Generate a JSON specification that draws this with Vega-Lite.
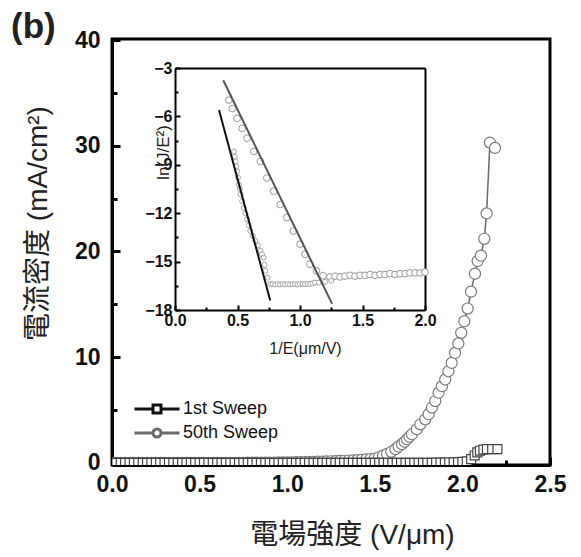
{
  "$schema": "https://vega.github.io/schema/vega-lite/v6.json",
  "width": 438,
  "height": 426,
  "autosize": "none",
  "padding": {"left": 112, "top": 39, "right": 31, "bottom": 92},
  "background": "white",
  "title": {"text": "(b)", "anchor": "start", "frame": "group", "dx": -101, "dy": 44, "fontSize": 35, "fontWeight": "bold", "color": "#222", "offset": 0, "baseline": "alphabetic", "font": "Liberation Sans"},
  "config": {
    "view": {"stroke": "black", "strokeWidth": 3},
    "axis": {"grid": false, "domainColor": "black", "tickColor": "black", "labelColor": "#111", "titleColor": "#222", "labelFont": "Liberation Sans", "labelFlush": false, "labelOverlap": false}
  },
  "datasets": {
    "main": [
      {"E":0.000,"J":0,"s":"50th Sweep"},{"E":0.025,"J":0,"s":"50th Sweep"},{"E":0.050,"J":0,"s":"50th Sweep"},{"E":0.075,"J":0,"s":"50th Sweep"},{"E":0.100,"J":0,"s":"50th Sweep"},{"E":0.125,"J":0,"s":"50th Sweep"},{"E":0.150,"J":0,"s":"50th Sweep"},{"E":0.175,"J":0,"s":"50th Sweep"},{"E":0.200,"J":0,"s":"50th Sweep"},{"E":0.225,"J":0,"s":"50th Sweep"},{"E":0.250,"J":0,"s":"50th Sweep"},{"E":0.275,"J":0,"s":"50th Sweep"},{"E":0.300,"J":0,"s":"50th Sweep"},{"E":0.325,"J":0,"s":"50th Sweep"},{"E":0.350,"J":0,"s":"50th Sweep"},{"E":0.375,"J":0,"s":"50th Sweep"},{"E":0.400,"J":0,"s":"50th Sweep"},{"E":0.425,"J":0,"s":"50th Sweep"},{"E":0.450,"J":0,"s":"50th Sweep"},{"E":0.475,"J":0,"s":"50th Sweep"},{"E":0.500,"J":0,"s":"50th Sweep"},{"E":0.525,"J":0,"s":"50th Sweep"},{"E":0.550,"J":0,"s":"50th Sweep"},{"E":0.575,"J":0,"s":"50th Sweep"},{"E":0.600,"J":0,"s":"50th Sweep"},{"E":0.625,"J":0,"s":"50th Sweep"},{"E":0.650,"J":0.01,"s":"50th Sweep"},{"E":0.675,"J":0.01,"s":"50th Sweep"},{"E":0.700,"J":0.01,"s":"50th Sweep"},{"E":0.725,"J":0.01,"s":"50th Sweep"},{"E":0.750,"J":0.01,"s":"50th Sweep"},{"E":0.775,"J":0.02,"s":"50th Sweep"},{"E":0.800,"J":0.02,"s":"50th Sweep"},{"E":0.825,"J":0.02,"s":"50th Sweep"},{"E":0.850,"J":0.02,"s":"50th Sweep"},{"E":0.875,"J":0.03,"s":"50th Sweep"},{"E":0.900,"J":0.03,"s":"50th Sweep"},{"E":0.925,"J":0.03,"s":"50th Sweep"},{"E":0.950,"J":0.04,"s":"50th Sweep"},{"E":0.975,"J":0.04,"s":"50th Sweep"},{"E":1.000,"J":0.05,"s":"50th Sweep"},{"E":1.025,"J":0.05,"s":"50th Sweep"},{"E":1.050,"J":0.06,"s":"50th Sweep"},{"E":1.075,"J":0.07,"s":"50th Sweep"},{"E":1.100,"J":0.08,"s":"50th Sweep"},{"E":1.125,"J":0.09,"s":"50th Sweep"},{"E":1.150,"J":0.1,"s":"50th Sweep"},{"E":1.175,"J":0.11,"s":"50th Sweep"},{"E":1.200,"J":0.12,"s":"50th Sweep"},{"E":1.225,"J":0.13,"s":"50th Sweep"},{"E":1.250,"J":0.15,"s":"50th Sweep"},{"E":1.275,"J":0.16,"s":"50th Sweep"},{"E":1.300,"J":0.18,"s":"50th Sweep"},{"E":1.325,"J":0.2,"s":"50th Sweep"},{"E":1.350,"J":0.22,"s":"50th Sweep"},{"E":1.375,"J":0.24,"s":"50th Sweep"},{"E":1.400,"J":0.26,"s":"50th Sweep"},{"E":1.425,"J":0.29,"s":"50th Sweep"},{"E":1.450,"J":0.32,"s":"50th Sweep"},{"E":1.475,"J":0.36,"s":"50th Sweep"},{"E":1.500,"J":0.41,"s":"50th Sweep"},
      {"E":1.523,"J":0.53,"s":"50th Sweep"},{"E":1.547,"J":0.68,"s":"50th Sweep"},{"E":1.570,"J":0.84,"s":"50th Sweep"},{"E":1.594,"J":1.05,"s":"50th Sweep"},{"E":1.618,"J":1.3,"s":"50th Sweep"},{"E":1.636,"J":1.55,"s":"50th Sweep"},{"E":1.655,"J":1.77,"s":"50th Sweep"},{"E":1.670,"J":2.0,"s":"50th Sweep"},{"E":1.684,"J":2.24,"s":"50th Sweep"},{"E":1.698,"J":2.47,"s":"50th Sweep"},{"E":1.712,"J":2.71,"s":"50th Sweep"},{"E":1.740,"J":3.18,"s":"50th Sweep"},{"E":1.760,"J":3.65,"s":"50th Sweep"},{"E":1.788,"J":4.12,"s":"50th Sweep"},{"E":1.807,"J":4.6,"s":"50th Sweep"},{"E":1.826,"J":5.23,"s":"50th Sweep"},{"E":1.845,"J":5.85,"s":"50th Sweep"},{"E":1.864,"J":6.64,"s":"50th Sweep"},{"E":1.883,"J":7.26,"s":"50th Sweep"},{"E":1.902,"J":7.89,"s":"50th Sweep"},{"E":1.920,"J":8.67,"s":"50th Sweep"},{"E":1.939,"J":9.46,"s":"50th Sweep"},{"E":1.958,"J":10.4,"s":"50th Sweep"},{"E":1.977,"J":11.3,"s":"50th Sweep"},{"E":1.993,"J":12.3,"s":"50th Sweep"},{"E":2.011,"J":13.4,"s":"50th Sweep"},{"E":2.030,"J":14.6,"s":"50th Sweep"},{"E":2.049,"J":16.2,"s":"50th Sweep"},{"E":2.072,"J":17.9,"s":"50th Sweep"},{"E":2.087,"J":19.1,"s":"50th Sweep"},{"E":2.106,"J":19.6,"s":"50th Sweep"},{"E":2.125,"J":21.2,"s":"50th Sweep"},{"E":2.138,"J":23.6,"s":"50th Sweep"},{"E":2.157,"J":30.3,"s":"50th Sweep"},{"E":2.186,"J":29.8,"s":"50th Sweep"},
      {"E":0.000,"J":0,"s":"1st Sweep"},{"E":0.025,"J":0,"s":"1st Sweep"},{"E":0.050,"J":0,"s":"1st Sweep"},{"E":0.075,"J":0,"s":"1st Sweep"},{"E":0.100,"J":0,"s":"1st Sweep"},{"E":0.125,"J":0,"s":"1st Sweep"},{"E":0.150,"J":0,"s":"1st Sweep"},{"E":0.175,"J":0,"s":"1st Sweep"},{"E":0.200,"J":0,"s":"1st Sweep"},{"E":0.225,"J":0,"s":"1st Sweep"},{"E":0.250,"J":0,"s":"1st Sweep"},{"E":0.275,"J":0,"s":"1st Sweep"},{"E":0.300,"J":0,"s":"1st Sweep"},{"E":0.325,"J":0,"s":"1st Sweep"},{"E":0.350,"J":0,"s":"1st Sweep"},{"E":0.375,"J":0,"s":"1st Sweep"},{"E":0.400,"J":0,"s":"1st Sweep"},{"E":0.425,"J":0,"s":"1st Sweep"},{"E":0.450,"J":0,"s":"1st Sweep"},{"E":0.475,"J":0,"s":"1st Sweep"},{"E":0.500,"J":0,"s":"1st Sweep"},{"E":0.525,"J":0,"s":"1st Sweep"},{"E":0.550,"J":0,"s":"1st Sweep"},{"E":0.575,"J":0,"s":"1st Sweep"},{"E":0.600,"J":0,"s":"1st Sweep"},{"E":0.625,"J":0,"s":"1st Sweep"},{"E":0.650,"J":0,"s":"1st Sweep"},{"E":0.675,"J":0,"s":"1st Sweep"},{"E":0.700,"J":0,"s":"1st Sweep"},{"E":0.725,"J":0,"s":"1st Sweep"},{"E":0.750,"J":0,"s":"1st Sweep"},{"E":0.775,"J":0,"s":"1st Sweep"},{"E":0.800,"J":0,"s":"1st Sweep"},{"E":0.825,"J":0,"s":"1st Sweep"},{"E":0.850,"J":0,"s":"1st Sweep"},{"E":0.875,"J":0,"s":"1st Sweep"},{"E":0.900,"J":0,"s":"1st Sweep"},{"E":0.925,"J":0,"s":"1st Sweep"},{"E":0.950,"J":0,"s":"1st Sweep"},{"E":0.975,"J":0,"s":"1st Sweep"},{"E":1.000,"J":0,"s":"1st Sweep"},{"E":1.025,"J":0,"s":"1st Sweep"},{"E":1.050,"J":0,"s":"1st Sweep"},{"E":1.075,"J":0,"s":"1st Sweep"},{"E":1.100,"J":0,"s":"1st Sweep"},{"E":1.125,"J":0,"s":"1st Sweep"},{"E":1.150,"J":0,"s":"1st Sweep"},{"E":1.175,"J":0,"s":"1st Sweep"},{"E":1.200,"J":0,"s":"1st Sweep"},{"E":1.225,"J":0,"s":"1st Sweep"},{"E":1.250,"J":0,"s":"1st Sweep"},{"E":1.275,"J":0,"s":"1st Sweep"},{"E":1.300,"J":0,"s":"1st Sweep"},{"E":1.325,"J":0,"s":"1st Sweep"},{"E":1.350,"J":0,"s":"1st Sweep"},{"E":1.375,"J":0,"s":"1st Sweep"},{"E":1.400,"J":0,"s":"1st Sweep"},{"E":1.425,"J":0,"s":"1st Sweep"},{"E":1.450,"J":0,"s":"1st Sweep"},{"E":1.475,"J":0,"s":"1st Sweep"},{"E":1.500,"J":0,"s":"1st Sweep"},{"E":1.525,"J":0,"s":"1st Sweep"},{"E":1.550,"J":0,"s":"1st Sweep"},{"E":1.575,"J":0,"s":"1st Sweep"},{"E":1.600,"J":0,"s":"1st Sweep"},{"E":1.625,"J":0,"s":"1st Sweep"},{"E":1.650,"J":0,"s":"1st Sweep"},{"E":1.675,"J":0,"s":"1st Sweep"},{"E":1.700,"J":0,"s":"1st Sweep"},{"E":1.725,"J":0,"s":"1st Sweep"},{"E":1.750,"J":0,"s":"1st Sweep"},{"E":1.775,"J":0,"s":"1st Sweep"},{"E":1.800,"J":0,"s":"1st Sweep"},{"E":1.825,"J":0.01,"s":"1st Sweep"},{"E":1.850,"J":0.02,"s":"1st Sweep"},{"E":1.875,"J":0.02,"s":"1st Sweep"},{"E":1.900,"J":0.03,"s":"1st Sweep"},{"E":1.925,"J":0.04,"s":"1st Sweep"},{"E":1.950,"J":0.05,"s":"1st Sweep"},{"E":1.975,"J":0.07,"s":"1st Sweep"},{"E":2.000,"J":0.1,"s":"1st Sweep"},{"E":2.025,"J":0.15,"s":"1st Sweep"},{"E":2.050,"J":0.35,"s":"1st Sweep"},{"E":2.070,"J":0.7,"s":"1st Sweep"},{"E":2.085,"J":1.0,"s":"1st Sweep"},{"E":2.100,"J":1.15,"s":"1st Sweep"},{"E":2.120,"J":1.25,"s":"1st Sweep"},{"E":2.140,"J":1.3,"s":"1st Sweep"},{"E":2.170,"J":1.3,"s":"1st Sweep"},{"E":2.200,"J":1.3,"s":"1st Sweep"}
    ],
    "ins": [
      {"x":0.471,"y":-8.17,"s":"1st"},{"x":0.478,"y":-8.5,"s":"1st"},{"x":0.484,"y":-8.79,"s":"1st"},{"x":0.49,"y":-9.1,"s":"1st"},{"x":0.497,"y":-9.41,"s":"1st"},{"x":0.504,"y":-9.8,"s":"1st"},{"x":0.511,"y":-10.23,"s":"1st"},{"x":0.518,"y":-10.5,"s":"1st"},{"x":0.524,"y":-10.84,"s":"1st"},{"x":0.537,"y":-11.25,"s":"1st"},{"x":0.55,"y":-11.67,"s":"1st"},{"x":0.563,"y":-12.0,"s":"1st"},{"x":0.577,"y":-12.38,"s":"1st"},{"x":0.59,"y":-12.75,"s":"1st"},{"x":0.603,"y":-13.1,"s":"1st"},{"x":0.623,"y":-13.4,"s":"1st"},{"x":0.643,"y":-13.72,"s":"1st"},{"x":0.663,"y":-14.0,"s":"1st"},{"x":0.683,"y":-14.33,"s":"1st"},{"x":0.696,"y":-14.55,"s":"1st"},{"x":0.709,"y":-14.75,"s":"1st"},{"x":0.716,"y":-15.2,"s":"1st"},{"x":0.722,"y":-15.57,"s":"1st"},{"x":0.74,"y":-16.0,"s":"1st"},{"x":0.762,"y":-16.39,"s":"1st"},{"x":0.78,"y":-16.4,"s":"1st"},{"x":0.80,"y":-16.42,"s":"1st"},{"x":0.82,"y":-16.4,"s":"1st"},{"x":0.84,"y":-16.42,"s":"1st"},{"x":0.86,"y":-16.4,"s":"1st"},{"x":0.88,"y":-16.42,"s":"1st"},{"x":0.90,"y":-16.4,"s":"1st"},{"x":0.92,"y":-16.42,"s":"1st"},{"x":0.94,"y":-16.4,"s":"1st"},{"x":0.96,"y":-16.4,"s":"1st"},{"x":0.98,"y":-16.42,"s":"1st"},{"x":1.00,"y":-16.4,"s":"1st"},{"x":1.02,"y":-16.38,"s":"1st"},{"x":1.04,"y":-16.4,"s":"1st"},{"x":1.06,"y":-16.38,"s":"1st"},{"x":1.08,"y":-16.38,"s":"1st"},{"x":1.10,"y":-16.35,"s":"1st"},{"x":1.12,"y":-16.3,"s":"1st"},{"x":1.15,"y":-16.3,"s":"1st"},{"x":1.20,"y":-16.25,"s":"1st"},{"x":1.25,"y":-16.2,"s":"1st"},
      {"x":0.431,"y":-4.99,"s":"50th"},{"x":0.458,"y":-5.51,"s":"50th"},{"x":0.497,"y":-6.12,"s":"50th"},{"x":0.537,"y":-6.74,"s":"50th"},{"x":0.577,"y":-7.35,"s":"50th"},{"x":0.63,"y":-8.17,"s":"50th"},{"x":0.683,"y":-8.79,"s":"50th"},{"x":0.735,"y":-9.82,"s":"50th"},{"x":0.788,"y":-10.64,"s":"50th"},{"x":0.841,"y":-11.46,"s":"50th"},{"x":0.894,"y":-12.27,"s":"50th"},{"x":0.947,"y":-13.1,"s":"50th"},{"x":1.0,"y":-13.92,"s":"50th"},{"x":1.04,"y":-14.54,"s":"50th"},{"x":1.079,"y":-15.16,"s":"50th"},{"x":1.132,"y":-15.57,"s":"50th"},{"x":1.185,"y":-15.87,"s":"50th"},{"x":1.24,"y":-15.95,"s":"50th"},{"x":1.28,"y":-15.9,"s":"50th"},{"x":1.32,"y":-15.95,"s":"50th"},{"x":1.36,"y":-15.9,"s":"50th"},{"x":1.40,"y":-15.85,"s":"50th"},{"x":1.44,"y":-15.9,"s":"50th"},{"x":1.48,"y":-15.85,"s":"50th"},{"x":1.52,"y":-15.85,"s":"50th"},{"x":1.56,"y":-15.8,"s":"50th"},{"x":1.60,"y":-15.85,"s":"50th"},{"x":1.64,"y":-15.8,"s":"50th"},{"x":1.68,"y":-15.8,"s":"50th"},{"x":1.72,"y":-15.75,"s":"50th"},{"x":1.76,"y":-15.8,"s":"50th"},{"x":1.80,"y":-15.75,"s":"50th"},{"x":1.84,"y":-15.75,"s":"50th"},{"x":1.88,"y":-15.7,"s":"50th"},{"x":1.92,"y":-15.7,"s":"50th"},{"x":1.96,"y":-15.7,"s":"50th"},{"x":2.0,"y":-15.65,"s":"50th"}
    ],
    "fit": [
      {"x":0.352,"y":-5.61,"s":"1st"},{"x":0.762,"y":-17.41,"s":"1st"},
      {"x":0.386,"y":-3.76,"s":"50th"},{"x":1.257,"y":-17.62,"s":"50th"}
    ]
  },
  "layer": [
    {
      "data": {"name": "main"},
      "encoding": {
        "x": {"field": "E", "type": "quantitative",
          "scale": {"domain": [0, 2.5], "nice": false, "zero": false},
          "axis": {"orient": "bottom", "values": [0,0.25,0.5,0.75,1,1.25,1.5,1.75,2,2.25,2.5],
            "labelExpr": "(datum.value*2) % 1 == 0 ? format(datum.value, '.1f') : ''",
            "tickSize": {"condition": {"test": "(datum.value*2) % 1 == 0", "value": -8}, "value": -5},
            "tickWidth": 3, "domainWidth": 3, "labelFontSize": 23, "labelFontWeight": "bold", "labelPadding": 16,
            "title": "電場強度 (V/μm)", "titleFont": "Liberation Sans, Noto Sans CJK TC", "titleFontSize": 28, "titleFontWeight": "normal",
            "titleX": 240, "titleY": 70, "titleBaseline": "middle", "titleAnchor": "middle"}},
        "y": {"field": "J", "type": "quantitative",
          "scale": {"domain": [-0.2, 40.1], "nice": false, "zero": false},
          "axis": {"orient": "left", "values": [0,5,10,15,20,25,30,35,40],
            "labelExpr": "datum.value % 10 == 0 ? datum.label : ''",
            "tickSize": {"condition": {"test": "datum.value % 10 == 0", "value": -8}, "value": -5},
            "tickWidth": 3, "domainWidth": 3, "labelFontSize": 23, "labelFontWeight": "bold", "labelPadding": 20,
            "title": "電流密度 (mA/cm²)", "titleFont": "Liberation Sans, Noto Sans CJK TC", "titleFontSize": 28, "titleFontWeight": "normal",
            "titleX": -74, "titleY": 184, "titleBaseline": "middle", "titleAngle": -90, "titleAnchor": "middle"}}
      },
      "layer": [
        {"mark": {"type": "line", "strokeWidth": 1.5, "clip": true},
         "encoding": {"color": {"field": "s", "type": "nominal",
           "scale": {"domain": ["1st Sweep", "50th Sweep"], "range": ["#111111", "#6a6a6a"]},
           "legend": {"orient": "none", "legendX": 21, "legendY": 356, "title": null, "padding": 0,
             "symbolSize": 625, "symbolStrokeWidth": 3, "symbolFillColor": "white",
             "labelFontSize": 18, "labelFont": "Liberation Sans", "labelColor": "#111", "labelOffset": 22, "rowPadding": 0,
             "encode": {"symbols": {"update": {
               "shape": {"signal": "datum.value == '1st Sweep' ? 'M-1,0H0.48M1.12,0H2.6M0.48,-0.32H1.12V0.32H0.48Z' : 'M-1,0H0.48M1.12,0H2.6M0.48,0A0.32,0.32 0 1,0 1.12,0A0.32,0.32 0 1,0 0.48,0Z'"},
               "fill": {"value": "white"}, "strokeWidth": {"value": 3}}}}}}}},
        {"transform": [{"filter": "datum.s == '50th Sweep'"}],
         "mark": {"type": "point", "shape": "circle", "filled": true, "fill": "white", "stroke": "#7a7a7a", "strokeWidth": 1.2, "size": 123, "opacity": 1, "clip": true}},
        {"transform": [{"filter": "datum.s == '1st Sweep'"}],
         "mark": {"type": "point", "shape": "square", "filled": true, "fill": "white", "stroke": "#444444", "strokeWidth": 1.2, "size": 80, "opacity": 1, "clip": true}}
      ]
    },
    {
      "encoding": {
        "x": {"field": "x", "type": "quantitative",
          "scale": {"domain": [0, 2], "range": [63, 313], "nice": false, "zero": false},
          "axis": {"orient": "bottom", "offset": -155, "values": [0,0.25,0.5,0.75,1,1.25,1.5,1.75,2],
            "labelExpr": "(datum.value*2) % 1 == 0 ? format(datum.value, '.1f') : ''",
            "tickSize": {"condition": {"test": "(datum.value*2) % 1 == 0", "value": -5}, "value": -3},
            "tickWidth": 2, "domainWidth": 2, "labelFontSize": 16, "labelFontWeight": "bold", "labelPadding": 7,
            "title": "1/E(μm/V)", "titleFontSize": 16, "titleFontWeight": "normal", "titleFont": "Liberation Sans",
            "titleX": 193, "titleY": 38, "titleBaseline": "middle", "titleAnchor": "middle"}},
        "y": {"field": "y", "type": "quantitative",
          "scale": {"domain": [-18, -3], "range": [271, 29], "nice": false, "zero": false},
          "axis": {"orient": "left", "offset": -63, "values": [-18,-16.5,-15,-13.5,-12,-10.5,-9,-7.5,-6,-4.5,-3],
            "labelExpr": "datum.value % 3 == 0 ? format(datum.value, 'd') : ''",
            "tickSize": {"condition": {"test": "datum.value % 3 == 0", "value": -5}, "value": -3},
            "tickWidth": 2, "domainWidth": 2, "labelFontSize": 16, "labelFontWeight": "bold", "labelPadding": 8,
            "title": "ln(J/E²)", "titleFontSize": 17, "titleFontWeight": "normal", "titleFont": "Liberation Sans",
            "titleX": -12, "titleY": 113, "titleBaseline": "middle", "titleAngle": -90, "titleAnchor": "middle"}}
      },
      "layer": [
        {"data": {"name": "ins"}, "transform": [{"filter": "datum.s == '50th'"}],
         "mark": {"type": "point", "shape": "circle", "filled": true, "fill": "white", "stroke": "#9a9a9a", "strokeWidth": 1, "size": 45, "opacity": 1}},
        {"data": {"name": "ins"}, "transform": [{"filter": "datum.s == '1st'"}],
         "mark": {"type": "point", "shape": "circle", "filled": true, "fill": "white", "stroke": "#a5a5a5", "strokeWidth": 1, "size": 25, "opacity": 1}},
        {"data": {"name": "fit"}, "transform": [{"filter": "datum.s == '50th'"}],
         "mark": {"type": "line", "stroke": "#555555", "strokeWidth": 2}},
        {"data": {"name": "fit"}, "transform": [{"filter": "datum.s == '1st'"}],
         "mark": {"type": "line", "stroke": "#111111", "strokeWidth": 2}}
      ]
    },
    {
      "data": {"name": "fit"},
      "mark": {"type": "point", "opacity": 0},
      "encoding": {
        "x": {"field": "x", "type": "quantitative",
          "scale": {"domain": [0, 2], "range": [63, 313], "nice": false, "zero": false},
          "axis": {"orient": "top", "offset": -29, "labels": false, "ticks": false, "title": null, "domainWidth": 2}},
        "y": {"field": "y", "type": "quantitative",
          "scale": {"domain": [-18, -3], "range": [271, 29], "nice": false, "zero": false},
          "axis": {"orient": "right", "offset": -125, "labels": false, "ticks": false, "title": null, "domainWidth": 2}}
      }
    }
  ],
  "resolve": {"scale": {"x": "independent", "y": "independent"}, "axis": {"x": "independent", "y": "independent"}}
}
